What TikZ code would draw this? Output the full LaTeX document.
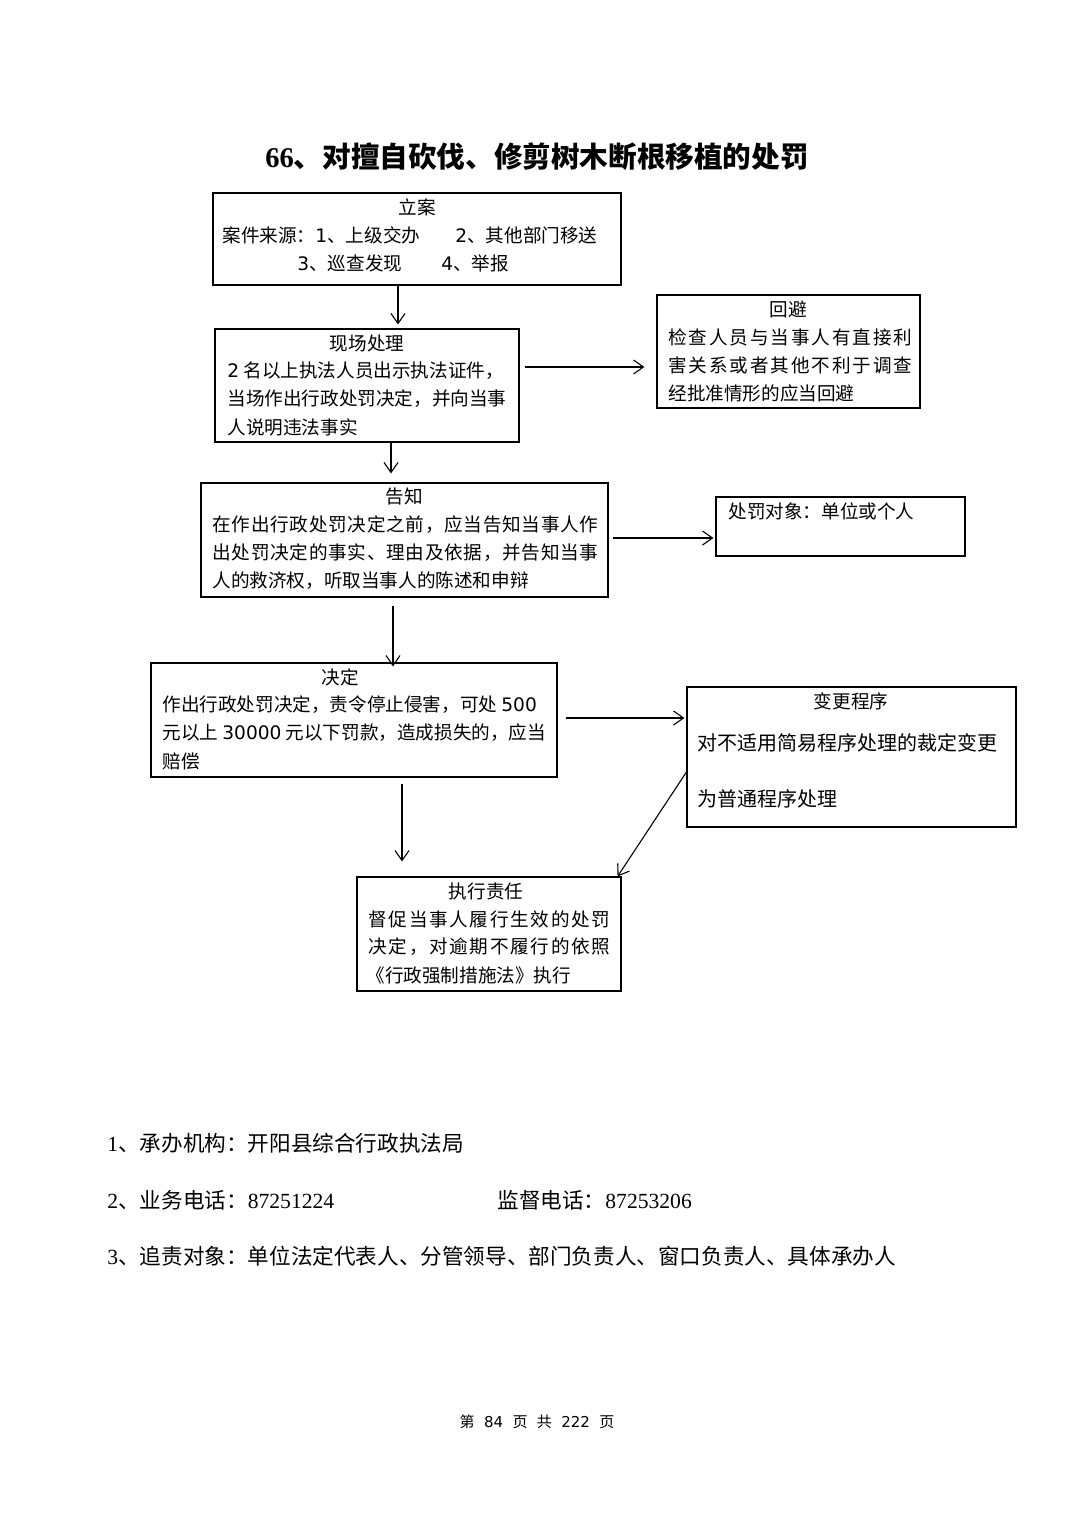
\documentclass[tikz,border=0pt]{standalone}
\usepackage{fontspec}
\newfontfamily\cjk{Noto Sans CJK SC}
\newfontfamily\tnr{Liberation Serif}
\newfontfamily\dvs{DejaVu Sans}
\usetikzlibrary{arrows.meta,calc}
\makeatletter
\newcommand\jline[2]{\makebox[#1][s]{\@tfor\jl@c:=#2\do{\jl@c\hfil}\unskip}}
\makeatother
\tikzset{
  bx/.style n args={2}{draw, line width=0.55pt, inner sep=0pt,
     minimum width=#1*0.5pt, minimum height=#2*0.5pt},
  txt/.style={inner sep=0pt, anchor=west, font=\cjk\fontsize{9.3}{12}\selectfont},
  ttl/.style={inner sep=0pt, font=\cjk\fontsize{9.3}{12}\selectfont},
  big/.style={inner sep=0pt, anchor=west, font=\cjk\fontsize{10}{12}\selectfont},
  foot/.style={inner sep=0pt, anchor=west, font=\cjk\fontsize{10.8}{13}\selectfont},
  arr/.style={-{Straight Barb[length=5pt,width=7pt]}, line width=0.55pt}
}
\begin{document}
\begin{tikzpicture}[x=0.5pt,y=-0.5pt]
\useasboundingbox (0,0) rectangle (1074,1520);
% title
\node[inner sep=0pt, font=\cjk\fontsize{14.3}{16}\selectfont\bfseries] (title) at (537,157)
  {{\tnr\bfseries 66}、对擅自砍伐、修剪树木断根移植的处罚};
% boxes
\node[bx={408}{92}]  (lian) at (417,239) {};
\node[bx={304}{113}] (xc)   at (367,385.5) {};
\node[bx={263}{113}] (hb)   at (788.5,351.5) {};
\node[bx={407}{114}] (gz)   at (404.5,540) {};
\node[bx={249}{59}]  (dx)   at (840.5,526.5) {};
\node[bx={406}{114}] (jd)   at (354,720) {};
\node[bx={329}{140}] (bg)   at (851.5,757) {};
\node[bx={264}{114}] (zx)   at (489,934) {};
% 立案
\node[ttl] (l0) at (417,207) {立案};
\node[txt] (l1) at (222,235) {案件来源：{\dvs 1}、上级交办};
\node[txt] (l2) at (455,235) {{\dvs 2}、其他部门移送};
\node[txt] (l3) at (297,263) {{\dvs 3}、巡查发现};
\node[txt] (l4) at (441,263) {{\dvs 4}、举报};
% 现场处理
\node[ttl] (x0) at (367,343) {现场处理};
\node[txt] (x1) at (227,371) {{\dvs 2} 名以上执法人员出示执法证件，};
\node[txt] (x2) at (227,399) {当场作出行政处罚决定，并向当事};
\node[txt] (x3) at (227,427) {人说明违法事实};
% 回避
\node[ttl] (h0) at (788,309) {回避};
\node[txt] (h1) at (668,337) {\jline{122pt}{检查人员与当事人有直接利}};
\node[txt] (h2) at (668,365) {\jline{122pt}{害关系或者其他不利于调查}};
\node[txt] (h3) at (668,393) {经批准情形的应当回避};
% 告知
\node[ttl] (g0) at (404,497) {告知};
\node[txt] (g1) at (212,525) {\jline{193pt}{在作出行政处罚决定之前，应当告知当事人作}};
\node[txt] (g2) at (212,553) {\jline{193pt}{出处罚决定的事实、理由及依据，并告知当事}};
\node[txt] (g3) at (212,581) {人的救济权，听取当事人的陈述和申辩};
% 处罚对象
\node[txt] (d1) at (728,511) {处罚对象：单位或个人};
% 决定
\node[ttl] (j0) at (340,677) {决定};
\node[txt] (j1) at (162,705) {作出行政处罚决定，责令停止侵害，可处 {\dvs 500}};
\node[txt] (j2) at (162,733) {元以上 {\dvs 30000} 元以下罚款，造成损失的，应当};
\node[txt] (j3) at (162,761) {赔偿};
% 变更程序
\node[ttl] (b0) at (851,701) {变更程序};
\node[big] (b1) at (697,743) {对不适用简易程序处理的裁定变更};
\node[big] (b2) at (697,799) {为普通程序处理};
% 执行责任
\node[ttl] (z0) at (486,891) {执行责任};
\node[txt] (z1) at (368,919) {\jline{121pt}{督促当事人履行生效的处罚}};
\node[txt] (z2) at (368,947) {\jline{121pt}{决定，对逾期不履行的依照}};
\node[txt] (z3) at (366,975) {《行政强制措施法》执行};
% arrows
\draw[arr] ($(lian.south)+(-19,0)$) -- ($(xc.north)+(31,-4)$);
\draw[arr] ($(xc.east)+(5,-18.5)$) -- ($(hb.west)+(-12,15.5)$);
\draw[arr] ($(xc.south)+(24,0)$) -- ($(gz.north)+(-13.5,-9)$);
\draw[arr] ($(gz.east)+(4,-2)$) -- ($(dx.west)+(-2,11.5)$);
\draw[arr] ($(gz.south)+(-11.5,8)$) -- ($(jd.north)+(39,4)$);
\draw[arr] ($(jd.east)+(8,-2)$) -- ($(bg.west)+(-2,-39)$);
\draw[arr] ($(jd.south)+(48,6)$) -- ($(zx.north)+(-87,-15)$);
\draw[arr] ($(bg.west)+(0,15)$) -- ($(zx.north east)+(-4,0)$);
% footer info
\node[foot] (f1) at (107,1143) {{\tnr 1}、承办机构：开阳县综合行政执法局};
\node[foot] (f2) at (107,1200) {{\tnr 2}、业务电话：{\tnr 87251224}};
\node[foot] (f3) at (497,1200) {监督电话：{\tnr 87253206}};
\node[foot] (f4) at (107,1256) {{\tnr 3}、追责对象：单位法定代表人、分管领导、部门负责人、窗口负责人、具体承办人};
\node[inner sep=0pt, font=\cjk\fontsize{7.5}{9}\selectfont] (pg) at (537,1422)
  {第\hspace{4.7pt}{\dvs 84}\hspace{4.7pt}页\hspace{4.7pt}共\hspace{4.7pt}{\dvs 222}\hspace{4.7pt}页};
\end{tikzpicture}
\end{document}
